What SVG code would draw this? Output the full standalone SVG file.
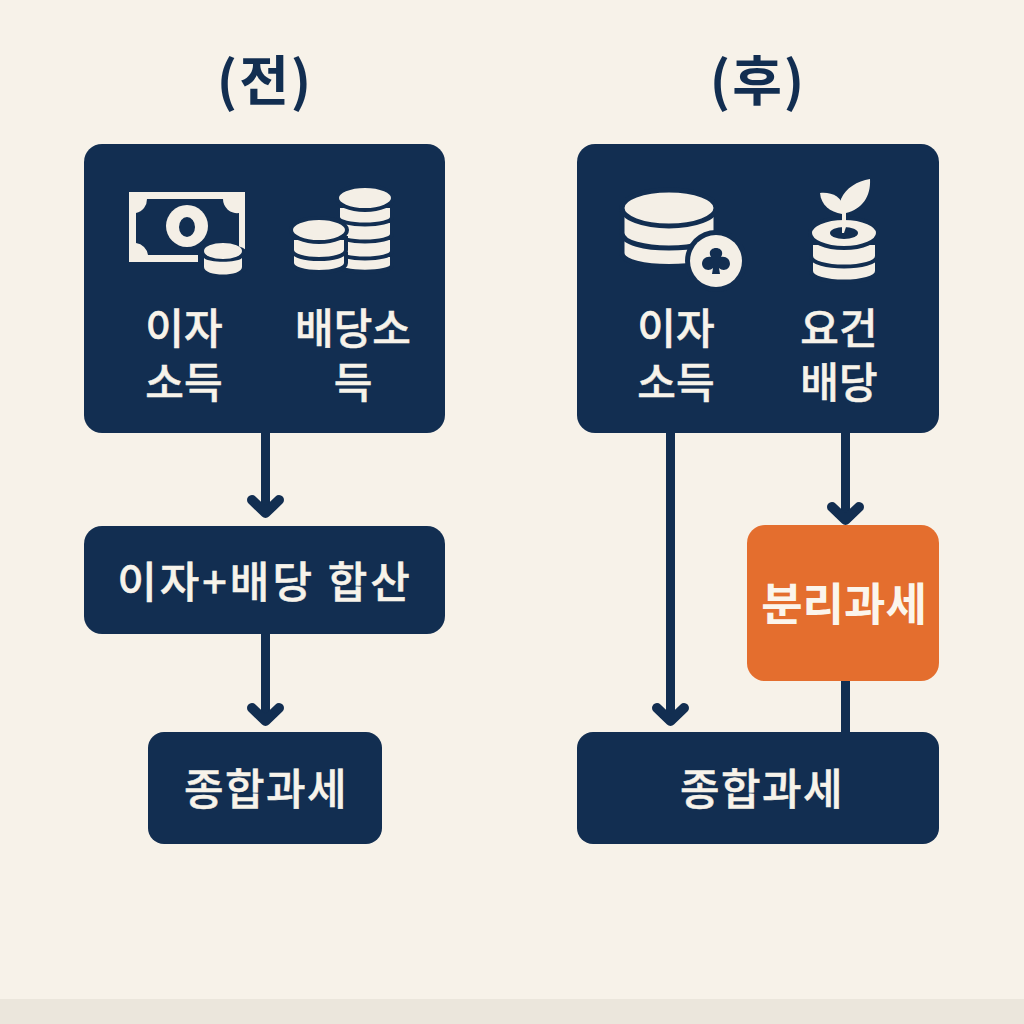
<svg xmlns="http://www.w3.org/2000/svg" width="1024" height="1024" viewBox="0 0 1024 1024">
<style>
text{font-family:"Noto Sans CJK KR","Noto Sans",sans-serif;text-anchor:middle}
.n{fill:#122e51}.c{fill:#f4efe6}
.lb{fill:#f7f3ea;font-size:42px;font-weight:500;stroke:#f7f3ea;stroke-width:.5px}
.t{fill:#122e51;font-size:54px;font-weight:700;letter-spacing:2px}
.lk{fill:none;stroke:#122e51;stroke-width:9}
.hd{fill:none;stroke:#122e51;stroke-width:10;stroke-linecap:round;stroke-linejoin:round}
.s{stroke:#122e51;stroke-width:4;fill:#f4efe6}
.s5{stroke-width:5}
</style>
<rect width="1024" height="1024" fill="#f7f2e9"/>
<rect y="999" width="1024" height="25" fill="#ebe6dc"/>
<text class="t" x="265" y="101">(전)</text>
<text class="t" x="758" y="101">(후)</text>
<g id="connectors">
<path class="lk" d="M265.500 432V510"/><path class="hd" d="M252 500L265.500 513L279 500"/>
<path class="lk" d="M265.500 633V718"/><path class="hd" d="M252 708L265.500 721L279 708"/>
<path class="lk" d="M670.500 432V718"/><path class="hd" d="M657 708L670.500 721L684 708"/>
<path class="lk" d="M845.500 432V517"/><path class="hd" d="M832 507L845.500 520L859 507"/>
<path class="lk" d="M845.500 680V732"/>
</g>
<g id="before-income">
<rect class="n" x="84" y="144" width="361" height="289" rx="18"/>
<g id="icon-bill">
<rect class="c" x="129" y="192" width="116" height="70"/>
<path class="n" d="M147 199H223A14 14 0 0 0 239 213V255H148A14 14 0 0 0 136 243V213A14 14 0 0 0 147 199Z"/>
<circle class="c" cx="187" cy="226" r="21"/>
<ellipse class="n" cx="187" cy="227" rx="8" ry="10"/>
<path d="M200 254a24 10 0 0 1 47 0v12a24 11 0 0 1 -47 0z" class="n" stroke="#122e51" stroke-width="4"/>
<path class="c" d="M204 258c5 5 33 5 38 0v9c0 10-38 10-38 0z"/>
<ellipse class="c" cx="223" cy="251" rx="19" ry="8"/>
</g>
<g id="icon-coins">
<path class="s" d="M338 255v10c0 9 54 9 54 0v-10z"/>
<path class="s" d="M338 238v13c0 10 54 10 54 0v-13z"/>
<path class="s" d="M338 221v13c0 10 54 10 54 0v-13z"/>
<path class="s" d="M338 206v11c0 10 54 10 54 0v-11z"/>
<ellipse class="s" cx="365" cy="198" rx="28" ry="12"/>
<path class="s" d="M292 254v9c0 12 54 12 54 0v-9z"/>
<path class="s" d="M292 238v12c0 12 54 12 54 0v-12z"/>
<ellipse class="s" cx="319" cy="230" rx="28" ry="12"/>
</g>
<text class="lb" x="184" y="344">이자</text>
<text class="lb" x="184" y="398">소득</text>
<text class="lb" x="353" y="344">배당소</text>
<text class="lb" x="353" y="398">득</text>
</g>
<g id="before-sum">
<rect class="n" x="84" y="526" width="361" height="108" rx="18"/>
<text class="lb" x="265" y="598" style="font-size:43px;letter-spacing:3px">이자+배당 합산</text>
</g>
<g id="before-tax">
<rect class="n" x="148" y="732" width="234" height="112" rx="16"/>
<text class="lb" x="266" y="805" style="font-size:43px;letter-spacing:1.500px">종합과세</text>
</g>
<g id="after-income">
<rect class="n" x="577" y="144" width="362" height="289" rx="18"/>
<g id="icon-coin-plus">
<path class="s s5" d="M622 232v21c0 18 94 18 94 0v-21z"/>
<path class="s s5" d="M622 214v19c0 20 94 20 94 0v-19z"/>
<ellipse class="s s5" cx="669" cy="208" rx="47" ry="18"/>
<circle class="n" cx="716" cy="261" r="31"/>
<circle class="c" cx="716" cy="261" r="26"/>
<path class="n" d="M712 274l1-6c-3 3-10 3-11-4 0-5 4-8 9-7-3-5 0-9 5-9s8 4 5 9c5-1 9 2 9 7-1 7-8 7-11 4l1 6z"/>
</g>
<g id="icon-seed">
<path class="s" d="M811 260v11c0 14 66 14 66 0v-11z"/>
<path class="s" d="M811 243v13c0 14 66 14 66 0v-13z"/>
<ellipse class="s" cx="844" cy="233" rx="34" ry="15"/>
<ellipse class="n" cx="844" cy="233" rx="14" ry="6"/>
<path class="c" d="M842 233l0-20c-1-6-2-10-1-14 5-11 16-18 29-20 1 18-8 30-24 34v14l-2 6z"/>
<path class="c" d="M842 214c-12-2-21-9-22-21 12-1 21 3 26 17z"/>
</g>
<text class="lb" x="676" y="344">이자</text>
<text class="lb" x="676" y="398">소득</text>
<text class="lb" x="839" y="344">요건</text>
<text class="lb" x="839" y="398">배당</text>
</g>
<g id="after-separate">
<rect x="747" y="525" width="192" height="156" rx="18" fill="#e46e2e"/>
<text class="lb" x="844" y="621" style="font-weight:700;font-size:45px;fill:#fbf5ec;stroke:none">분리과세</text>
</g>
<g id="after-tax">
<rect class="n" x="577" y="732" width="362" height="112" rx="16"/>
<text class="lb" x="762" y="805" style="font-size:43px;letter-spacing:1.500px">종합과세</text>
</g>
</svg>
